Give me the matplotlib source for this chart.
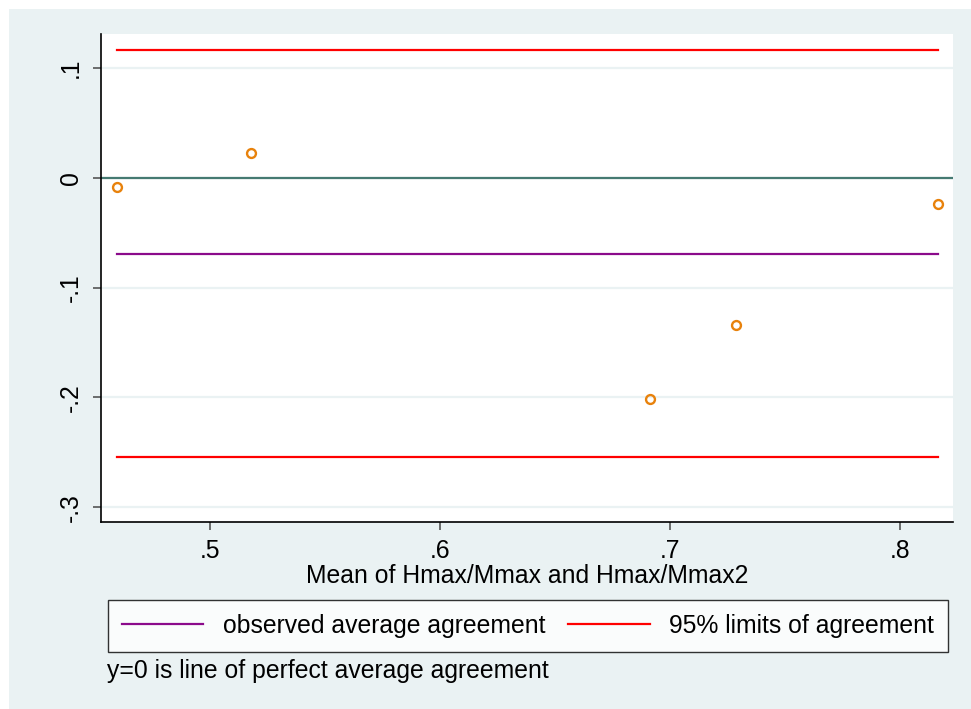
import numpy as np
import matplotlib
matplotlib.use("Agg")
import matplotlib.pyplot as plt
from matplotlib.patches import Rectangle

plt.rcParams['font.family'] = ['Liberation Sans', 'DejaVu Sans']

# Bland-Altman data: mean of the two measures and their difference
mean_vals = [0.4596, 0.5178, 0.6913, 0.7287, 0.8161]
diff_vals = [-0.0084, 0.0226, -0.2012, -0.1343, -0.0235]

x_ticks = [0.5, 0.6, 0.7, 0.8]
x_ticklabels = ['.5', '.6', '.7', '.8']
y_ticks = [0.1, 0.0, -0.1, -0.2, -0.3]
y_ticklabels = ['.1', '0', '-.1', '-.2', '-.3']

xlabel = 'Mean of Hmax/Mmax and Hmax/Mmax2'
legend_labels = ['observed average agreement', '95% limits of agreement']
note = 'y=0 is line of perfect average agreement'

# agreement statistics
d = np.array(diff_vals)
avg = d.mean()
sd = d.std(ddof=1)
lo, hi = avg - 1.96 * sd, avg + 1.96 * sd

BG = '#eaf2f3'
FS = 17.8
W, H = 971, 709
fig = plt.figure(figsize=(W / 100, H / 100), dpi=100)
fig.patch.set_facecolor('white')
fig.patches.append(Rectangle((9 / W, 0), 1 - 9 / W, 1 - 9 / H,
                             transform=fig.transFigure, facecolor=BG,
                             edgecolor='none', zorder=-10))

ax = fig.add_axes([101 / W, (H - 522) / H, 851.5 / W, 488 / H])
ax.set_facecolor('white')
ax.set_xlim(0.4526, 0.8226)
ax.set_ylim(-0.3135, 0.1312)

for yt in y_ticks:
    ax.axhline(yt, color=BG, lw=1.6, zorder=0)
ax.axhline(0, color='#457a72', lw=1.6, zorder=2)

xmin, xmax = min(mean_vals), max(mean_vals)
l_avg, = ax.plot([xmin, xmax], [avg, avg], color='#8b0a8b', lw=1.6, zorder=3)
l_lim, = ax.plot([xmin, xmax], [hi, hi], color='#ff0000', lw=1.6, zorder=3)
ax.plot([xmin, xmax], [lo, lo], color='#ff0000', lw=1.6, zorder=3)

ax.plot(mean_vals, diff_vals, 'o', mfc='none', mec='#e8820c', ms=6.4,
        mew=1.7, zorder=4)

ax.set_xticks(x_ticks)
ax.set_xticklabels(x_ticklabels)
ax.set_yticks(y_ticks)
ax.set_yticklabels(y_ticklabels, rotation=90, va='center')
ax.tick_params(axis='both', length=6, width=1.2, color='#555555',
               labelsize=FS, direction='out')
ax.tick_params(axis='x', pad=6)
ax.tick_params(axis='y', pad=7)
for s in ['top', 'right']:
    ax.spines[s].set_visible(False)
for s in ['left', 'bottom']:
    ax.spines[s].set_linewidth(1.2)
    ax.spines[s].set_color('black')

fig.text(527 / W, 1 - 576 / H, xlabel, ha='center', va='center', fontsize=FS)

leg = fig.legend([l_avg, l_lim], legend_labels, ncol=2, loc='center',
                 bbox_to_anchor=(528 / W, 1 - 626 / H), fontsize=FS,
                 frameon=True, fancybox=False, edgecolor='black',
                 handlelength=3.3, handletextpad=0.8, columnspacing=0.9,
                 borderpad=0.55, borderaxespad=0)
leg.get_frame().set_linewidth(1.0)
leg.get_frame().set_facecolor('white')

fig.text(107 / W, 1 - 671 / H, note, ha='left', va='center', fontsize=FS)

fig.savefig('out.png', dpi=100, facecolor=fig.get_facecolor())
